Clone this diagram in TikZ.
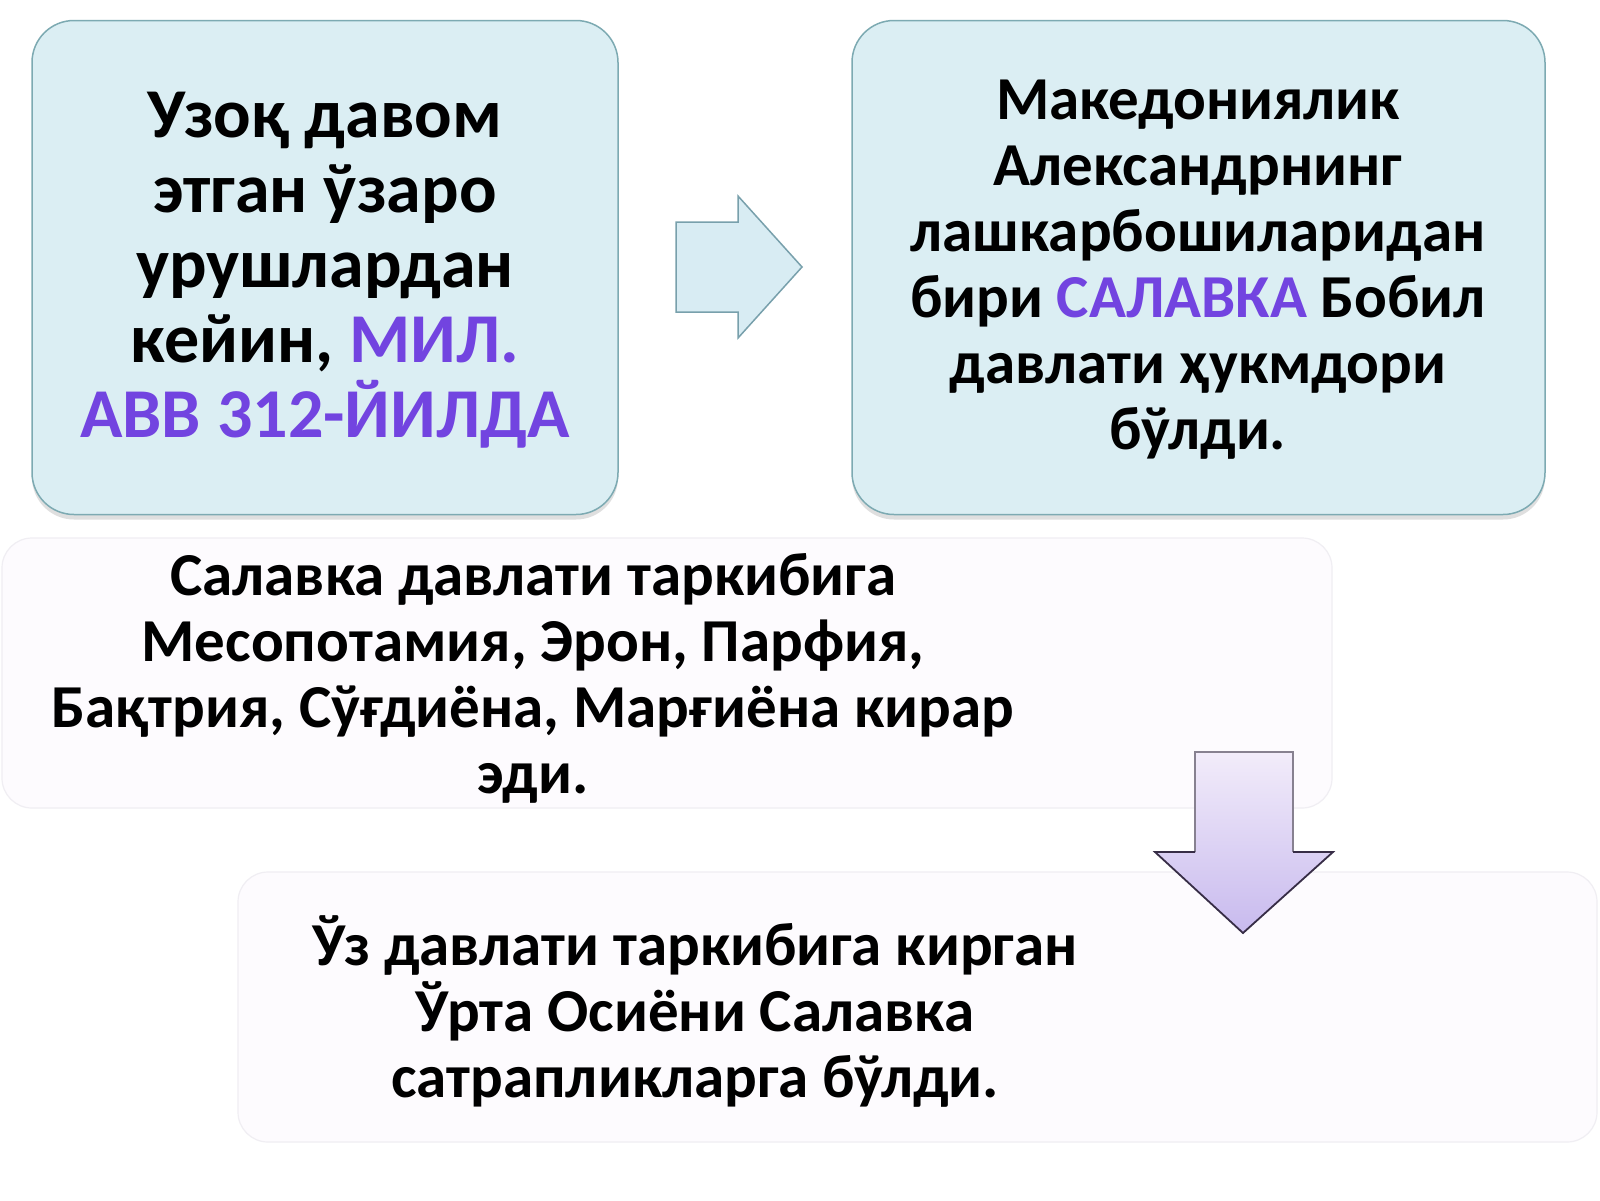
\documentclass[tikz,border=0pt]{standalone}
\usepackage{fontspec}
\setmainfont{Carlito}
\usetikzlibrary{shadows}
\definecolor{boxfill}{RGB}{219,238,243}
\definecolor{boxline}{RGB}{125,170,178}
\definecolor{palefill}{RGB}{253,251,254}
\definecolor{paleline}{RGB}{240,238,243}
\definecolor{accent}{RGB}{114,68,224}
\definecolor{arrowfill}{RGB}{216,236,243}
\definecolor{arrowline}{RGB}{120,160,172}
\definecolor{downtop}{RGB}{242,236,250}
\definecolor{downbot}{RGB}{200,186,238}
\definecolor{downline}{RGB}{55,45,70}
\tikzset{
  bluebox/.style={draw=boxline, line width=1.5pt, fill=boxfill, rounded corners=42pt,
    drop shadow={shadow xshift=0pt, shadow yshift=-5pt, opacity=0.25, fill=gray}},
  palebox/.style={draw=paleline, line width=1.2pt, fill=palefill, rounded corners=30pt},
  bigtext/.style={align=center, font=\bfseries\fontsize{70}{75}\selectfont},
  midtext/.style={align=center, font=\bfseries\fontsize{61}{66}\selectfont},
}
\begin{document}
\begin{tikzpicture}[x=1pt,y=-1pt]
\useasboundingbox[fill=white] (0,0) rectangle (1600,1200);
% boxes
\node[bluebox, minimum width=586pt, minimum height=494pt, inner sep=0pt] (b1) at (325,267.5) {};
\node[bluebox, minimum width=693pt, minimum height=494pt, inner sep=0pt] (b2) at (1198.5,267.5) {};
\node[palebox, minimum width=1330pt, minimum height=270pt, inner sep=0pt] (b3) at (667,673) {};
\node[palebox, minimum width=1359pt, minimum height=270pt, inner sep=0pt] (b4) at (917.5,1007) {};
% texts
\node[bigtext] (t1) at (325,270) {Узоқ давом\\этган ўзаро\\урушлардан\\кейин, \textcolor{accent}{МИЛ.}\\\textcolor{accent}{АВВ 312-ЙИЛДА}};
\node[midtext] (t2) at (1198,270) {Македониялик\\Александрнинг\\лашкарбошиларидан\\бири \textcolor{accent}{САЛАВКА} Бобил\\давлати ҳукмдори\\бўлди.};
\node[midtext] (t3) at (533,678) {Салавка давлати таркибига\\Месопотамия, Эрон, Парфия,\\Бақтрия, Сўғдиёна, Марғиёна кирар\\эди.};
\node[midtext] (t4) at (695,1011) {Ўз давлати таркибига кирган\\Ўрта Осиёни Салавка\\сатрапликларга бўлди.};
% right arrow
\draw[draw=arrowline, line width=1.5pt, fill=arrowfill, line join=miter]
  (676,222) -- (738,222) -- (738,196) -- (802,267) -- (738,338) -- (738,312) -- (676,312) -- cycle;
% down arrow
\shade[top color=downtop, bottom color=downbot]
  (1195,752) -- (1293,752) -- (1293,852) -- (1333,852) -- (1243,933) -- (1155,852) -- (1195,852) -- cycle;
\draw[draw=downline!60, line width=1.2pt] (1195,852) -- (1195,752) -- (1293,752) -- (1293,852);
\draw[draw=downline, line width=1.8pt] (1195,852) -- (1155,852) -- (1243,933) -- (1333,852) -- (1293,852);
\end{tikzpicture}
\end{document}
